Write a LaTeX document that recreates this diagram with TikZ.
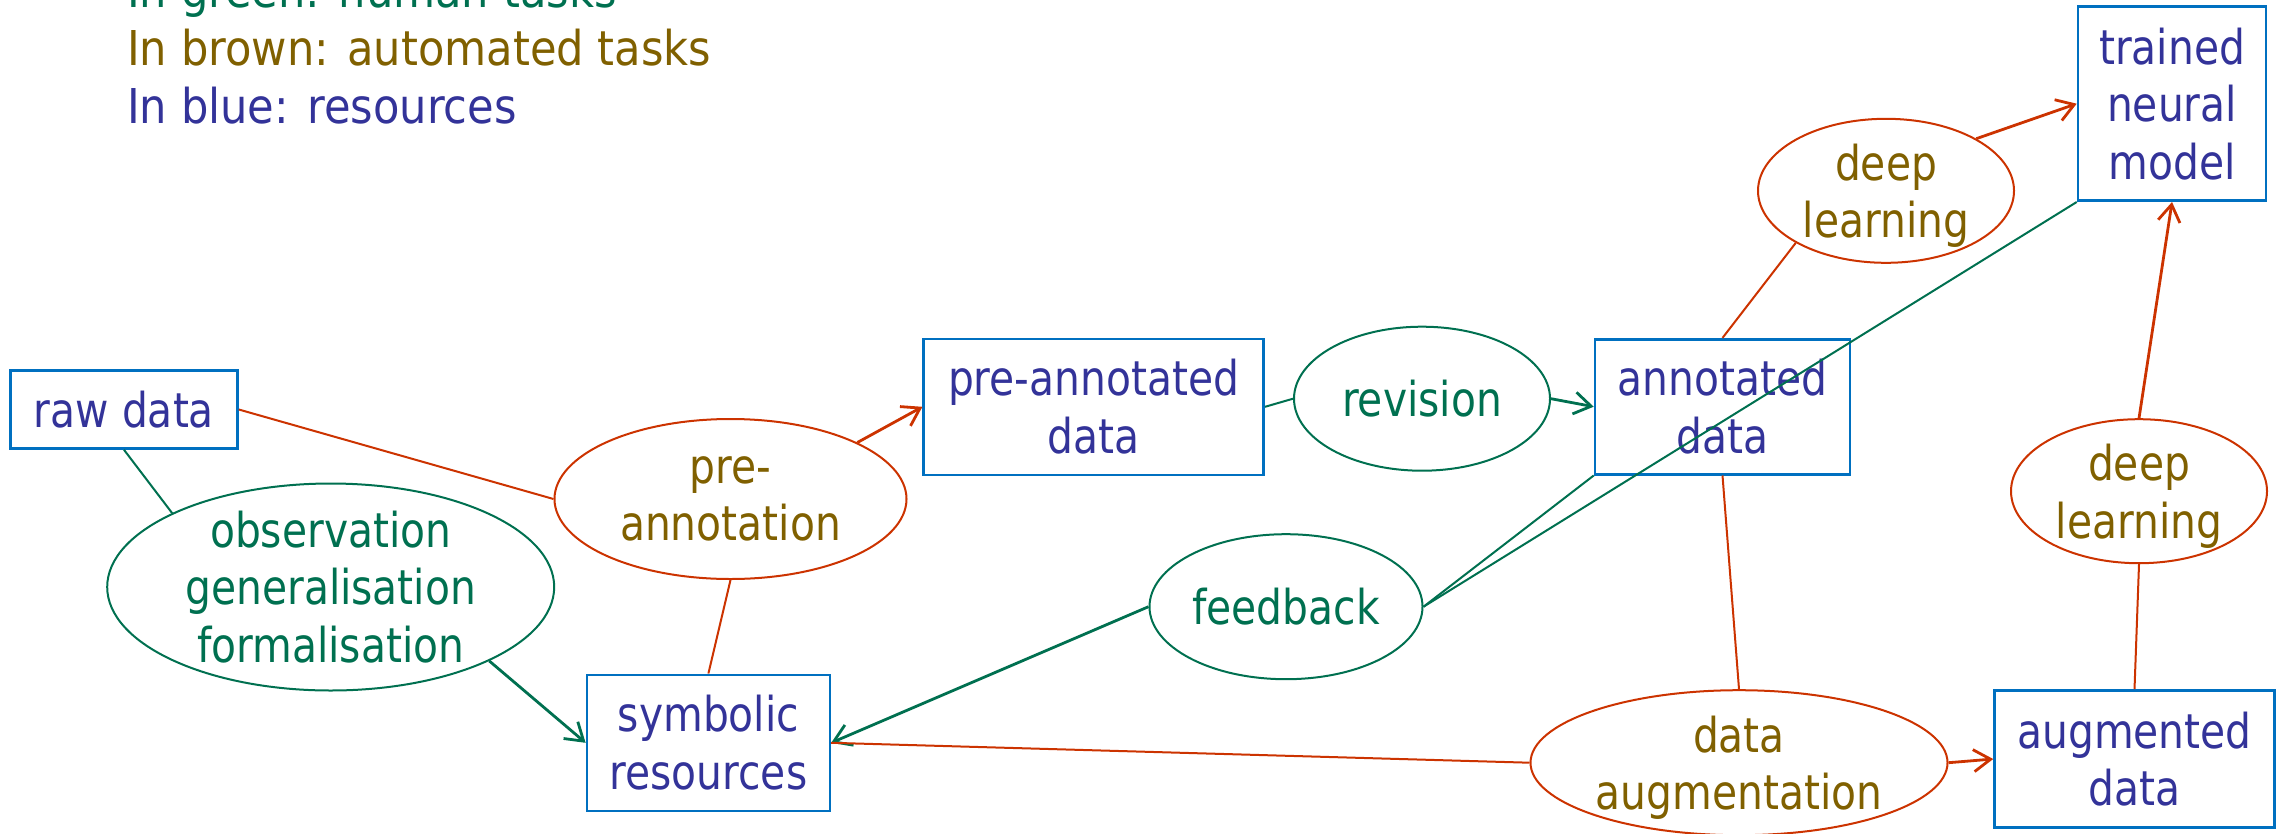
\documentclass[tikz,border=0pt]{standalone}
\usepackage{fontspec}
\setmainfont{DejaVu Sans}[FakeStretch=0.85]
\newfontfamily\legfont{DejaVu Sans}[FakeStretch=0.9]
\usetikzlibrary{shapes.geometric,arrows.meta}
\definecolor{tgreen}{HTML}{007050}
\definecolor{tbrown}{HTML}{806000}
\definecolor{tblue}{HTML}{333399}
\definecolor{bordblue}{HTML}{0070C0}
\definecolor{lred}{HTML}{CC3300}
\begin{document}
\begin{tikzpicture}[x=1pt,y=-1pt,
  every node/.style={font=\fontsize{48}{57.5}\selectfont, inner sep=0pt, align=center},
  legend/.style={anchor=base west, font=\legfont\fontsize{48}{57.5}\selectfont},
  res/.style={draw=bordblue, line width=2.6pt, text=tblue, rectangle},
  human/.style={ellipse, draw=tgreen, line width=2pt, text=tgreen, inner ysep=-45pt},
  autotask/.style={ellipse, draw=lred, line width=2pt, text=tbrown, inner ysep=-45pt},
  gline/.style={draw=tgreen, line width=2pt},
  rline/.style={draw=lred, line width=2pt},
  arr/.style={line width=2.8pt, -{Straight Barb[length=17pt,width=22pt]}},
]
\useasboundingbox (0,0) rectangle (2277,833);
\clip (0,0) rectangle (2277,833);

% legend
\node[legend, text=tgreen] (lg) at (127,7) {In green: human tasks};
\node[legend, text=tbrown] (lb) at (127,65) {In brown: automated tasks};
\node[legend, text=tblue] (lbl) at (127,123) {In blue: resources};

% nodes
\node[res, minimum width=227pt, minimum height=78pt] (raw) at (124,409.5) {raw data};
\node[human, minimum width=447pt, minimum height=207pt] (obs) at (330.7,587) {observation\\generalisation\\formalisation};
\node[autotask, minimum width=352pt, minimum height=160pt] (pre) at (730.5,499) {pre-\\annotation};
\node[res, minimum width=340pt, minimum height=136pt] (pad) at (1093.7,406.8) {pre-annotated\\data};
\node[res, minimum width=243pt, minimum height=136pt] (sym) at (708.4,742.8) {symbolic\\resources};
\node[human, minimum width=256pt, minimum height=144pt] (rev) at (1422,398.7) {revision};
\node[res, minimum width=255pt, minimum height=135pt] (ann) at (1722.5,406.7) {annotated\\data};
\node[human, minimum width=273pt, minimum height=145pt] (fb) at (1286,606.7) {feedback};
\node[autotask, minimum width=256pt, minimum height=144pt, text depth=0pt] (dl1) at (1886,190.8) {deep\\learning};
\node[res, minimum width=188pt, minimum height=194pt] (tnm) at (2172,103.7) {trained\\neural\\model};
\node[autotask, minimum width=256pt, minimum height=144pt, text depth=0pt] (dl2) at (2139,491.2) {deep\\learning};
\node[autotask, minimum width=417pt, minimum height=145pt, text depth=0pt] (aug) at (1739,762.7) {data\\augmentation};
\node[res, minimum width=280pt, minimum height=137pt] (augd) at (2134.5,759) {augmented\\data};

% connectors
\draw[gline] (raw.south) -- (obs.155);
\draw[rline] (raw.east) -- (pre.west);
\draw[gline, arr] (obs.-25) -- (sym.west);
\draw[rline, arr] (pre.24) -- (pad.west);
\draw[rline] (pre.south) -- (sym.north);
\draw[gline] (pad.east) -- (rev.west);
\draw[gline, arr] (rev.east) -- (ann.west);
\draw[gline] (fb.east) -- (ann.south west);
\draw[gline] (fb.east) -- (tnm.south west);
\draw[gline, arr] (fb.west) -- (sym.east);
\draw[rline] (aug.west) -- (sym.east);
\draw[rline] (ann.north) -- (dl1.210);
\draw[rline, arr] (dl1.30) -- (tnm.west);
\draw[rline] (ann.south) -- (aug.north);
\draw[rline, arr] (aug.east) -- (augd.west);
\draw[rline] (augd.north) -- (dl2.south);
\draw[rline, arr] (dl2.north) -- (tnm.south);
\end{tikzpicture}
\end{document}
